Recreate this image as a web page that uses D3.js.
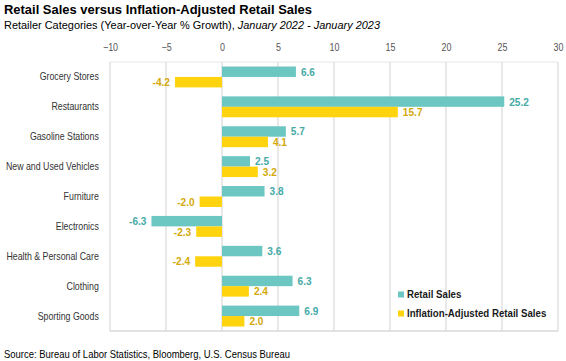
<!DOCTYPE html>
<html>
<head>
<meta charset="utf-8">
<script src="https://cdn.jsdelivr.net/npm/d3@7"></script>
<style>
  body { margin: 0; background: #fff; }
  svg { display: block; font-family: "Liberation Sans", Arial, sans-serif; }
</style>
</head>
<body>
<svg id="chart" width="566" height="361"></svg>
<script>
var categories = ["Grocery Stores", "Restaurants", "Gasoline Stations", "New and Used Vehicles",
    "Furniture", "Electronics", "Health & Personal Care", "Clothing", "Sporting Goods"];
var retailSales = [6.6, 25.2, 5.7, 2.5, 3.8, -6.3, 3.6, 6.3, 6.9];
var adjustedSales = [-4.2, 15.7, 4.1, 3.2, -2.0, -2.3, -2.4, 2.4, 2.0];
var seriesNames = ["Retail Sales", "Inflation-Adjusted Retail Sales"];
var xTicks = [-10, -5, 0, 5, 10, 15, 20, 25, 30];

var barColors = ["#6cc7c3", "#ffd30d"];
var labelColors = ["#45aaa7", "#d3a90a"];

var svg = d3.select("#chart"),
    margin = {top: 62, right: 8, bottom: 30, left: 110},
    width = 566 - margin.left - margin.right,
    height = 331 - margin.top;

// no narrow font installed, so squeeze text horizontally
function squeeze(sel, s) {
    sel.attr("transform", "scale(" + s + ",1)");
}

svg.append("text")
    .attr("x", 4).attr("y", 14)
    .attr("textLength", 308).attr("lengthAdjust", "spacingAndGlyphs")
    .style("font-weight", "bold").style("font-size", "13.5px")
    .text("Retail Sales versus Inflation-Adjusted Retail Sales");

var sub = svg.append("text")
    .attr("x", 4).attr("y", 28.5)
    .attr("textLength", 376).attr("lengthAdjust", "spacingAndGlyphs")
    .style("font-size", "11px");
sub.append("tspan").text("Retailer Categories (Year-over-Year % Growth), ");
sub.append("tspan").style("font-style", "italic").text("January 2022 - January 2023");

svg.append("text")
    .attr("x", 4).attr("y", 358)
    .attr("textLength", 286).attr("lengthAdjust", "spacingAndGlyphs")
    .style("font-size", "10.5px")
    .text("Source: Bureau of Labor Statistics, Bloomberg, U.S. Census Bureau");

var x = d3.scaleLinear().domain([-10, 30]).range([0, width]);
var y = d3.scaleBand().domain(categories).range([0, height]).paddingInner(0.3).paddingOuter(0.15);
var ySub = d3.scaleBand().domain([0, 1]).range([0, y.bandwidth()]);

var g = svg.append("g").attr("transform", "translate(" + margin.left + "," + margin.top + ")");

// gridlines
g.append("g")
    .selectAll("line")
    .data(xTicks)
    .enter().append("line")
    .attr("x1", function (d) { return x(d); })
    .attr("x2", function (d) { return x(d); })
    .attr("y1", 0).attr("y2", height)
    .style("stroke", "#d9d9d9").style("stroke-width", 1.2);

g.append("line")
    .attr("x1", 0).attr("x2", width).attr("y1", height).attr("y2", height)
    .style("stroke", "#d9d9d9").style("stroke-width", 1.5);
g.append("line")
    .attr("x1", 0).attr("x2", width).attr("y1", 0).attr("y2", 0)
    .style("stroke", "#e6e6e6").style("stroke-width", 1);

// top axis
var xAxis = g.append("g")
    .call(d3.axisTop(x).tickValues(xTicks).tickSize(0).tickPadding(11));
xAxis.select(".domain").remove();
xAxis.selectAll("text").style("font-size", "10.5px").style("fill", "#555")
    .style("font-family", "Liberation Sans, Arial, sans-serif")
    .call(squeeze, 0.85);

// category labels
var yAxis = g.append("g")
    .call(d3.axisLeft(y).tickSize(0).tickPadding(14));
yAxis.select(".domain").remove();
yAxis.selectAll("text").style("font-size", "11px").style("fill", "#333")
    .style("font-family", "Liberation Sans, Arial, sans-serif")
    .call(squeeze, 0.8);

var rows = categories.map(function (c, i) {
    return {cat: c, vals: [retailSales[i], adjustedSales[i]]};
});

var row = g.selectAll(".row")
    .data(rows)
    .enter().append("g")
    .attr("class", "row")
    .attr("transform", function (d) { return "translate(0," + y(d.cat) + ")"; });

row.selectAll("rect")
    .data(function (d) { return d.vals; })
    .enter().append("rect")
    .attr("x", function (v) { return x(Math.min(0, v)); })
    .attr("width", function (v) { return Math.abs(x(v) - x(0)); })
    .attr("y", function (v, i) { return ySub(i); })
    .attr("height", ySub.bandwidth())
    .style("fill", function (v, i) { return barColors[i]; });

row.selectAll("text")
    .data(function (d) { return d.vals; })
    .enter().append("text")
    .attr("transform", function (v, i) {
        var px = v >= 0 ? x(v) + 5 : x(v) - 5;
        return "translate(" + px + "," + (ySub(i) + ySub.bandwidth() / 2) + ") scale(0.92,1)";
    })
    .attr("dy", "0.36em")
    .style("text-anchor", function (v) { return v >= 0 ? "start" : "end"; })
    .style("font-weight", "bold").style("font-size", "11px")
    .style("fill", function (v, i) { return labelColors[i]; })
    .text(function (v) { return v.toFixed(1); });

// legend
var legend = svg.append("g").attr("transform", "translate(398,294.5)");
var item = legend.selectAll("g")
    .data(seriesNames)
    .enter().append("g")
    .attr("transform", function (d, i) { return "translate(0," + i * 19 + ")"; });
item.append("rect")
    .attr("x", 0).attr("y", -3).attr("width", 6).attr("height", 6)
    .style("fill", function (d, i) { return barColors[i]; });
item.append("text")
    .attr("transform", "translate(9,0) scale(0.88,1)")
    .attr("dy", "0.36em")
    .style("font-weight", "bold").style("font-size", "11px")
    .style("fill", "#1a1a1a")
    .text(function (d) { return d; });
</script>
</body>
</html>
